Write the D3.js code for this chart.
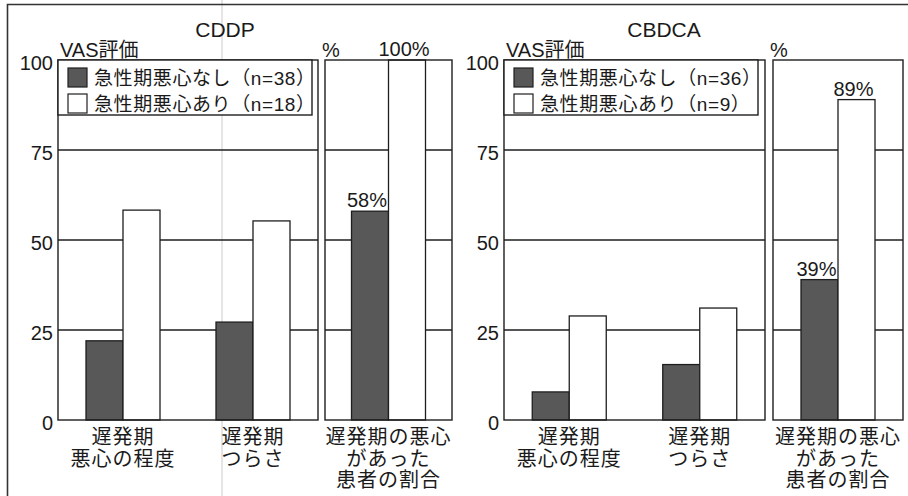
<!DOCTYPE html>
<html><head><meta charset="utf-8">
<script src="https://cdn.jsdelivr.net/npm/d3@7"></script>
<style>
html,body{margin:0;padding:0;background:#fff;}
svg{display:block;}
text{font-family:"Liberation Sans","Noto Sans CJK JP",sans-serif;fill:#1a1a1a;}
</style></head>
<body>
<svg id="chart" width="908" height="496"></svg>
<script>
// ---- data ----
const categories = ["遅発期\n悪心の程度", "遅発期\nつらさ"];
const pctCategory = ["遅発期の悪心\nがあった\n患者の割合"];
const seriesKeys = ["none", "present"];
const tickValues = [0, 25, 50, 75, 100];
const panelTitles = ["CDDP", "CBDCA"];
const cddpLegend = ["急性期悪心なし（n=38）", "急性期悪心あり（n=18）"];
const cbdcaLegend = ["急性期悪心なし（n=36）", "急性期悪心あり（n=9）"];
const cddpNone = [22, 27.2];
const cddpPresent = [58.3, 55.3];
const cddpPct = [58, 100];
const cbdcaNone = [7.8, 15.4];
const cbdcaPresent = [28.9, 31.1];
const cbdcaPct = [39, 89];

const panels = [
  {title: panelTitles[0], legend: cddpLegend, none: cddpNone, present: cddpPresent, pct: cddpPct,
   plot: [58, 318], pctRange: [325, 452], titleX: 225},
  {title: panelTitles[1], legend: cbdcaLegend, none: cbdcaNone, present: cbdcaPresent, pct: cbdcaPct,
   plot: [504, 765], pctRange: [773, 903], titleX: 664}
];

const svg = d3.select("#chart");
const colors = {none: "#585858", present: "#ffffff"};
const ink = "#1e1e1e";
const y = d3.scaleLinear().domain([0, 100]).range([420, 60]);

// scan fold line
svg.append("line").attr("x1", 222).attr("x2", 222).attr("y1", 0).attr("y2", 496)
  .attr("stroke", "#d4d4d4").attr("stroke-width", 1.2);
// outer frame
svg.append("path").attr("d", "M7.5,496 L7.5,4.5 L908,4.5").attr("fill", "none")
  .attr("stroke", "#333").attr("stroke-width", 1.6);

function multiline(g, str, x, y0, lh, size, ls) {
  const t = g.append("text").attr("text-anchor", "middle").attr("font-size", size)
    .attr("letter-spacing", ls);
  str.split("\n").forEach((s, i) => {
    t.append("tspan").attr("x", x).attr("y", y0 + i * lh).text(s);
  });
}

function gridAndFrame(g, x0, x1) {
  g.selectAll(null).data(tickValues.filter(v => v > 0 && v < 100)).join("line")
    .attr("x1", x0).attr("x2", x1).attr("y1", d => y(d)).attr("y2", d => y(d))
    .attr("stroke", ink).attr("stroke-width", 1.3);
}
function frame(g, x0, x1) {
  g.append("rect").attr("x", x0).attr("y", y(100)).attr("width", x1 - x0)
    .attr("height", y(0) - y(100)).attr("fill", "none").attr("stroke", ink).attr("stroke-width", 1.4);
}

panels.forEach(p => {
  const g = svg.append("g");
  // title & axis titles
  g.append("text").attr("x", p.titleX).attr("y", 37).attr("text-anchor", "middle")
    .attr("font-size", 21).text(p.title);
  g.append("text").attr("x", p.plot[0] + 2).attr("y", 57).attr("font-size", 20).text("VAS評価");
  g.append("text").attr("x", p.pctRange[0] - 3).attr("y", 57).attr("font-size", 20).text("%");

  // main plot
  const x = d3.scaleBand().domain(categories).range(p.plot).paddingInner(0).paddingOuter(0);
  const xs = d3.scaleBand().domain(seriesKeys).range([0, 74]);
  const off = (x.bandwidth() - 74) / 2;
  gridAndFrame(g, p.plot[0], p.plot[1]);
  const rows = categories.map((c, i) => ({c, none: p.none[i], present: p.present[i]}));
  const grp = g.selectAll(null).data(rows).join("g")
    .attr("transform", d => `translate(${x(d.c) + off},0)`);
  grp.selectAll("rect").data(d => seriesKeys.map(k => ({k, v: d[k]}))).join("rect")
    .attr("x", d => xs(d.k)).attr("width", xs.bandwidth())
    .attr("y", d => y(d.v)).attr("height", d => y(0) - y(d.v))
    .attr("fill", d => colors[d.k]).attr("stroke", ink).attr("stroke-width", 1.3);
  frame(g, p.plot[0], p.plot[1]);

  // y axis labels
  const axis = d3.axisLeft(y).tickValues(tickValues).tickSize(0).tickPadding(5);
  const ag = g.append("g").attr("transform", `translate(${p.plot[0]},3)`).call(axis);
  ag.select(".domain").remove();
  ag.selectAll("text").attr("font-size", 20).style("font-family", "'Liberation Sans',sans-serif").attr("fill", ink);

  // x labels
  categories.forEach(c => multiline(g, c, x(c) + x.bandwidth() / 2, 444, 21.5, 20, 1));

  // legend
  const lx = p.plot[0], lw = 254;
  g.append("rect").attr("x", lx).attr("y", 60).attr("width", lw).attr("height", 55)
    .attr("fill", "#fff").attr("stroke", ink).attr("stroke-width", 1.4);
  p.legend.forEach((t, i) => {
    const k = seriesKeys[i];
    g.append("rect").attr("x", lx + 10).attr("y", 68 + i * 26).attr("width", 19).attr("height", 19)
      .attr("fill", colors[k]).attr("stroke", ink).attr("stroke-width", 1.2);
    g.append("text").attr("x", lx + 36).attr("y", 85 + i * 26).attr("font-size", 19)
      .attr("letter-spacing", 0.6).text(t);
  });

  // percent panel
  const xp = d3.scaleBand().domain(pctCategory).range(p.pctRange);
  const offp = (xp.bandwidth() - 74) / 2;
  gridAndFrame(g, p.pctRange[0], p.pctRange[1]);
  const prow = seriesKeys.map((k, i) => ({k, v: p.pct[i]}));
  const pg = g.append("g").attr("transform", `translate(${xp(pctCategory[0]) + offp},0)`);
  pg.selectAll("rect").data(prow).join("rect")
    .attr("x", d => xs(d.k)).attr("width", xs.bandwidth())
    .attr("y", d => y(d.v)).attr("height", d => y(0) - y(d.v))
    .attr("fill", d => colors[d.k]).attr("stroke", ink).attr("stroke-width", 1.3);
  pg.selectAll("text").data(prow).join("text")
    .attr("x", d => xs(d.k) + xs.bandwidth() / 2 - 3).attr("y", d => y(d.v) - 4)
    .attr("text-anchor", "middle").attr("font-size", 20).text(d => d.v + "%");
  frame(g, p.pctRange[0], p.pctRange[1]);
  multiline(g, pctCategory[0], xp(pctCategory[0]) + xp.bandwidth() / 2, 444, 21.5, 20, 1);
});
</script>
</body></html>
